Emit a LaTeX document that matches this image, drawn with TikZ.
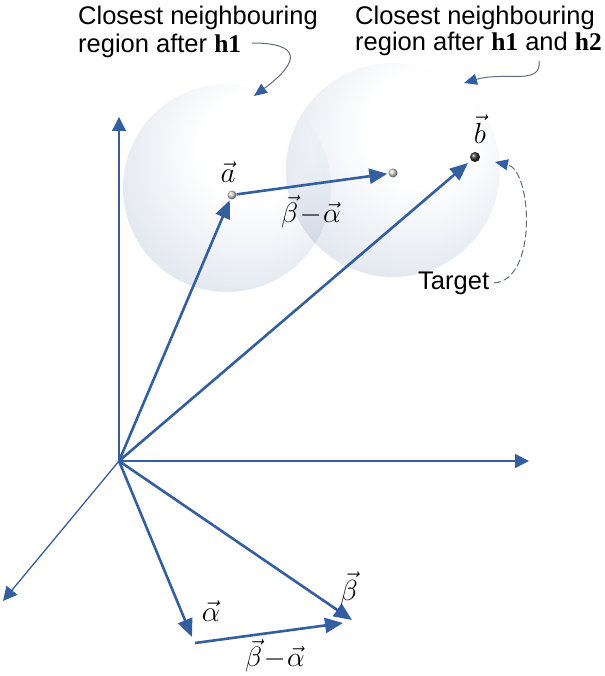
\documentclass[tikz,border=0pt]{standalone}
\usepackage{graphicx}
\usepackage{fontspec}
\setmainfont{Liberation Sans}
\newfontfamily\tnr{Liberation Serif}
\usetikzlibrary{arrows.meta}
\definecolor{vblue}{RGB}{52,94,162}
\definecolor{cgray}{RGB}{95,108,128}
\definecolor{sphA}{RGB}{230,235,242}
\definecolor{sphB}{RGB}{208,216,228}
\pgfdeclareradialshading{sphshade}{\pgfpoint{8bp}{12bp}}{%
  color(0bp)=(white); color(13bp)=(white); color(30bp)=(sphA);
  color(52bp)=(sphB); color(70bp)=(sphB)}
\newcommand{\mymathL}[1]{\scalebox{1.4}{\fontsize{20.74}{24}\selectfont$#1$}}
\newcommand{\mymathM}[1]{\scalebox{1.35}{\fontsize{20.74}{24}\selectfont$#1$}}
\begin{document}
\begin{tikzpicture}[x=1pt,y=-1pt,
  vec/.style={line width=2.6pt, draw=vblue, -{Triangle[length=18pt,width=15pt]}},
  axis/.style={line width=1.3pt, draw=vblue, -{Triangle[length=14pt,width=14pt]}},
  lbl/.style={font=\fontsize{25.5}{28}\selectfont, inner sep=0pt},
  mlbl/.style={inner sep=0pt},
  callout/.style={line width=1pt, draw=cgray, -{Triangle[length=13pt,width=11pt,color=vblue]}},
  sphere/.style={circle, inner sep=0pt, shade, shading=sphshade},
  ballpt/.style={circle, inner sep=0pt, minimum size=9pt, shade, ball color=gray!35},
  blackdot/.style={circle, inner sep=0pt, minimum size=10pt, shade, ball color=black!80},
]
\useasboundingbox (0,0) rectangle (604,676);
% spheres
\begin{scope}[blend mode=multiply]
\node[sphere, minimum size=208pt] (sph1) at (227,188) {};
\node[sphere, minimum size=214pt] (sph2) at (393,170) {};
\end{scope}
% axes
\coordinate (O) at (119,461);
\coordinate (Ytip) at (119,117);
\coordinate (Xtip) at (529,461);
\coordinate (Ztip) at (3,601);
\draw[axis] (O) -- (Ytip);
\draw[axis] (O) -- (Xtip);
\draw[axis] (O) -- (Ztip);
% points
\node[ballpt] (pa) at (232,195) {};
\node[ballpt] (pc) at (393,173) {};
\node[blackdot] (pb) at (475,157) {};
% upper vectors
\draw[vec, shorten >=1pt] (O) -- (pa);
\draw[vec, shorten >=1pt] (pa) -- (pc);
\draw[vec, shorten >=4pt] (O) -- (pb);
% lower vectors
\coordinate (al) at (192,637);
\coordinate (be) at (352,620);
\coordinate (bas) at (195,643);
\coordinate (bae) at (343,623);
\draw[vec] (O) -- (al);
\draw[vec] (O) -- (be);
\draw[vec] (bas) -- (bae);
% math labels
\node[mlbl] (la) at (228,172) {\mymathL{\vec a}};
\node[mlbl] (lba1) at (311,212) {\mymathM{\vec\beta\!-\!\vec\alpha}};
\node[mlbl] (lb) at (480,129) {\mymathL{\vec b}};
\node[mlbl] (lal) at (211,611) {\mymathL{\vec\alpha}};
\node[mlbl] (lbe) at (349,589) {\mymathL{\vec\beta}};
\node[mlbl] (lba2) at (275,656) {\mymathM{\vec\beta\!-\!\vec\alpha}};
% texts
\node[lbl, anchor=base west] (t1a) at (78,25) {Closest neighbouring};
\node[lbl, anchor=base west] (t1b) at (78,53) {region after {\tnr\bfseries h1}};
\node[lbl, anchor=base west] (t2a) at (355,25) {Closest neighbouring};
\node[lbl, anchor=base west] (t2b) at (355,51) {region after {\tnr\bfseries h1} and {\tnr\bfseries h2}};
\node[lbl, anchor=base west] (tg) at (418,289) {Target};
% callouts
\coordinate (c1s) at (252,43);
\coordinate (c1e) at (254,96);
\draw[callout] (c1s) .. controls (302,43) and (300,62) .. (c1e);
\coordinate (c2s) at (539,61);
\coordinate (c2e) at (464,83);
\draw[callout] (c2s) .. controls (542,86) and (505,71) .. (c2e);
\coordinate (tgs) at (494,283);
\coordinate (tge) at (495,162);
\draw[callout, dash pattern=on 7pt off 3pt] (tgs) .. controls (538,280) and (532,170) .. (tge);
\end{tikzpicture}
\end{document}
